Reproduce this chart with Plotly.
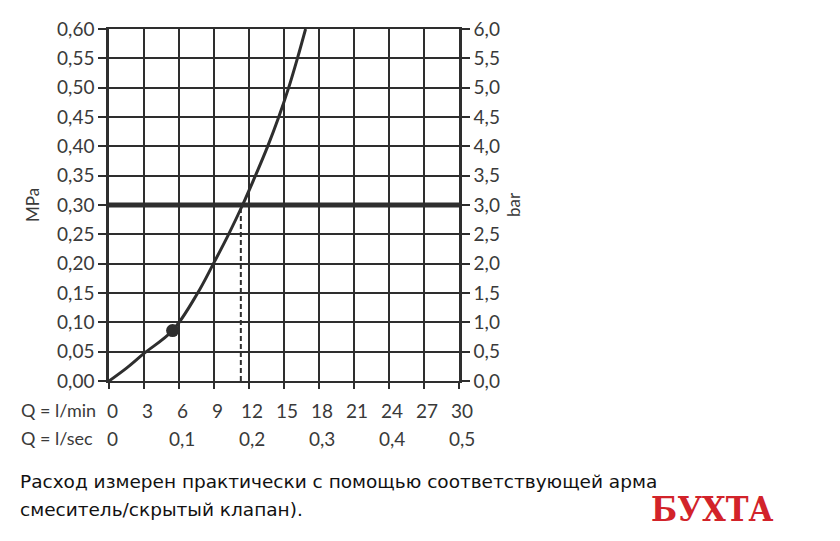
import plotly.graph_objects as go

# Data
flow_lmin = [0, 1.5, 3, 5.45, 7.6, 8.95, 10.25, 11.45, 12.55, 13.6, 14.55, 15.4, 16.15, 16.85]
pressure_mpa = [0, 0.022, 0.047, 0.086, 0.15, 0.20, 0.25, 0.30, 0.35, 0.40, 0.45, 0.50, 0.55, 0.60]
dot_x = [5.45]
dot_y = [0.086]
ref_pressure = 0.30
ref_flow = 11.3

lmin_ticks = [0, 3, 6, 9, 12, 15, 18, 21, 24, 27, 30]
lsec_pos = [0, 6, 12, 18, 24, 30]
lsec_labels = ["0", "0,1", "0,2", "0,3", "0,4", "0,5"]
mpa_ticks = [round(0.05 * i, 2) for i in range(13)]
bar_ticks = [round(0.5 * i, 1) for i in range(13)]

ink = "#2e2e2e"
txt = "#3a3a3a"
font_fam = "Lato, Open Sans, DejaVu Sans, sans-serif"
FS = 19

OFF = 8  # page body margin
L, R, T, B = 109, 459, 29, 381
W, H = 840, 541
pw, ph = R - L, B - T


def px(xp):
    return (xp - L) / pw


def py(yp):
    return (B - yp) / ph


fig = go.Figure()

fig.add_trace(go.Scatter(x=[0, 30], y=[ref_pressure, ref_pressure], mode="lines",
                         line=dict(color=ink, width=5), showlegend=False, hoverinfo="skip"))
fig.add_trace(go.Scatter(x=[ref_flow, ref_flow], y=[0, ref_pressure], mode="lines",
                         line=dict(color=ink, width=2, dash="5px,3px"), showlegend=False, hoverinfo="skip"))
fig.add_trace(go.Scatter(x=flow_lmin, y=pressure_mpa, mode="lines",
                         line=dict(color=ink, width=3, shape="spline", smoothing=1.0),
                         showlegend=False))
fig.add_trace(go.Scatter(x=dot_x, y=dot_y, mode="markers",
                         marker=dict(color=ink, size=13), showlegend=False))
fig.add_trace(go.Scatter(x=[0], y=[0], yaxis="y2", mode="markers",
                         marker=dict(opacity=0), showlegend=False, hoverinfo="skip"))

fig.update_layout(
    width=W - OFF, height=H - OFF,
    margin=dict(l=L - OFF, r=W - R, t=T - OFF, b=H - B, autoexpand=False),
    paper_bgcolor="white", plot_bgcolor="white",
    separators=", ",
    font=dict(family=font_fam, color=txt, size=FS),
    xaxis=dict(range=[0, 30], tickvals=lmin_ticks, showticklabels=False, automargin=False,
               showgrid=True, gridcolor=ink, gridwidth=2,
               showline=True, linecolor=ink, linewidth=2, mirror=True,
               ticks="outside", ticklen=6, tickwidth=2, tickcolor=ink, zeroline=False),
    yaxis=dict(range=[0, 0.6], tickvals=mpa_ticks, tickformat=".2f", automargin=False,
               showgrid=True, gridcolor=ink, gridwidth=2,
               showline=True, linecolor=ink, linewidth=2.5,
               ticks="outside", ticklen=8, tickwidth=2, tickcolor=ink, zeroline=False,
               title=dict(text="MPa", standoff=14, font=dict(size=17))),
    yaxis2=dict(range=[0, 6], tickvals=bar_ticks, tickformat=".1f", overlaying="y", side="right",
                automargin=False,
                showgrid=False, showline=True, linecolor=ink, linewidth=2.5,
                ticks="outside", ticklen=8, tickwidth=2, tickcolor=ink, zeroline=False,
                title=dict(text="bar", standoff=10, font=dict(size=17))),
)

ann = []
for v in lmin_ticks:
    ann.append(go.layout.Annotation(x=v, y=0, xref="x", yref="paper", yshift=-29, xshift=3,
                                    text=str(v), showarrow=False, font=dict(size=FS, color=txt),
                                    xanchor="center", yanchor="middle"))
for p, lab in zip(lsec_pos, lsec_labels):
    ann.append(go.layout.Annotation(x=p, y=0, xref="x", yref="paper", yshift=-57, xshift=3,
                                    text=lab, showarrow=False, font=dict(size=FS, color=txt),
                                    xanchor="center", yanchor="middle"))
ann.append(go.layout.Annotation(x=px(19), y=py(410), xref="paper", yref="paper", text="Q = l/min",
                                showarrow=False, xanchor="left", yanchor="middle",
                                font=dict(size=18, color=txt)))
ann.append(go.layout.Annotation(x=px(19), y=py(438), xref="paper", yref="paper", text="Q = l/sec",
                                showarrow=False, xanchor="left", yanchor="middle",
                                font=dict(size=18, color=txt)))
cap_font = dict(size=18.5, color="#111111", family="DejaVu Sans, Liberation Sans, sans-serif")
ann.append(go.layout.Annotation(x=px(18), y=py(481), xref="paper", yref="paper",
                                text="Расход измерен практически с помощью соответствующей арма",
                                showarrow=False, xanchor="left", yanchor="middle", font=cap_font))
ann.append(go.layout.Annotation(x=px(18), y=py(509), xref="paper", yref="paper",
                                text="смеситель/скрытый клапан).",
                                showarrow=False, xanchor="left", yanchor="middle", font=cap_font))
ann.append(go.layout.Annotation(x=px(712), y=py(509), xref="paper", yref="paper",
                                text="<b>БУХТА</b>", showarrow=False, xanchor="center", yanchor="middle",
                                font=dict(size=34, color="#d2232a",
                                          family="DejaVu Serif Condensed, DejaVu Serif, serif")))
fig.layout.annotations = ann

fig.write_html("out.html")
